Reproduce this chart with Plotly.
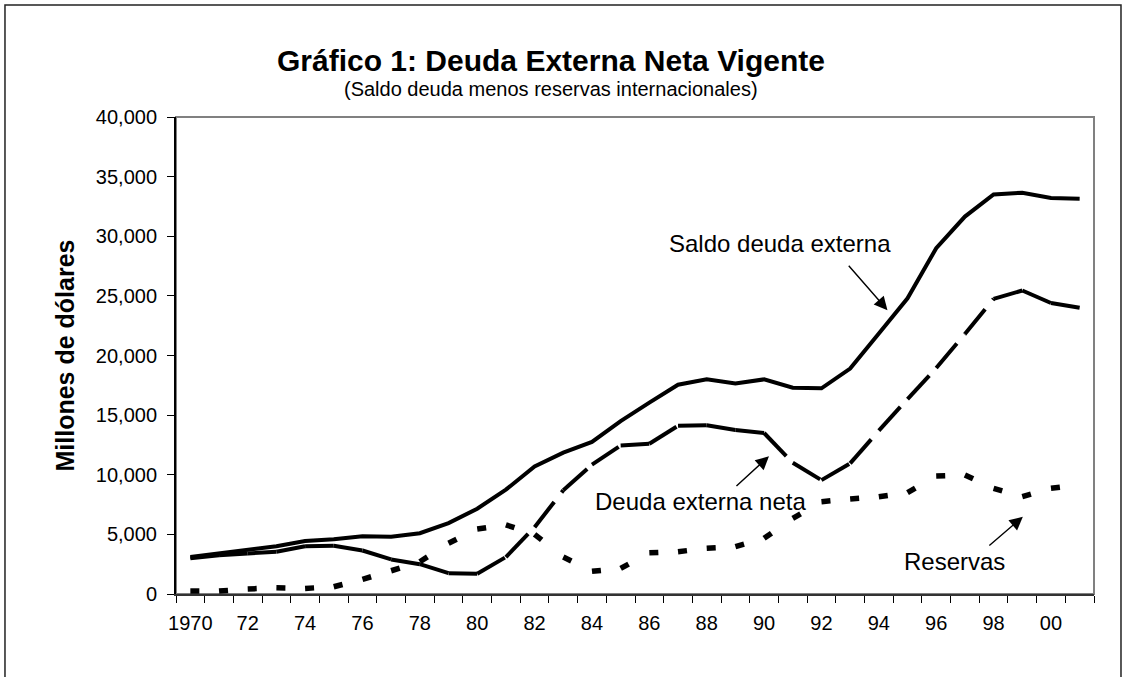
import plotly.graph_objects as go

# Deuda externa (millones de dólares), 1970-2001
years = list(range(1970, 2002))
saldo = [3100, 3400, 3700, 4000, 4450, 4600, 4850, 4800, 5100, 5950,
         7150, 8750, 10700, 11850, 12750, 14500, 16050, 17550, 18000, 17650,
         18000, 17300, 17250, 18900, 21850, 24800, 29000, 31650, 33500, 33650,
         33200, 33150]
neta = [3000, 3250, 3400, 3550, 4000, 4050, 3650, 2900, 2500, 1750,
        1700, 3100, 5600, 8700, 10850, 12450, 12600, 14100, 14150, 13750,
        13500, 11000, 9550, 10950, 13700, 16350, 18950, 21800, 24750, 25450,
        24400, 24000]
reservas = [250, 250, 420, 520, 470, 610, 1230, 1950, 2700, 4250,
            5450, 5800, 5000, 3100, 1900, 2150, 3450, 3550, 3830, 3970,
            4670, 6350, 7740, 7970, 8160, 8500, 9900, 9980, 8860, 8160,
            8860, 9140]

tick_years = list(range(1970, 2001, 2))
tick_text = ["1970"] + [str(y)[2:] for y in tick_years[1:]]

FONT = "Liberation Sans, Arial, sans-serif"

fig = go.Figure()

# saldo deuda externa: solid line
fig.add_trace(go.Scatter(x=years, y=saldo, mode="lines",
                         line=dict(color="black", width=4),
                         showlegend=False, hoverinfo="skip"))

# excel restarts the dash pattern at every point, so draw segment by segment
for i in range(len(years) - 1):
    fig.add_trace(go.Scatter(x=years[i:i + 2], y=neta[i:i + 2], mode="lines",
                             line=dict(color="black", width=4, dash="32px,12px"),
                             showlegend=False, hoverinfo="skip"))
    fig.add_trace(go.Scatter(x=years[i:i + 2], y=reservas[i:i + 2], mode="lines",
                             line=dict(color="black", width=5.5, dash="9px,100px"),
                             showlegend=False, hoverinfo="skip"))

# labels + arrows
fig.add_annotation(x=1990.55, y=29400, text="Saldo deuda externa", showarrow=False,
                   font=dict(size=24, color="black", family=FONT))
fig.add_annotation(x=1994.3, y=23800, ax=-40, ay=-46, text="", showarrow=True,
                   arrowhead=2, arrowsize=1.9, arrowwidth=1.4, arrowcolor="black")

fig.add_annotation(x=1987.8, y=7750, text="Deuda externa neta", showarrow=False,
                   font=dict(size=24, color="black", family=FONT))
fig.add_annotation(x=1990.17, y=11550, ax=-34, ay=31, text="", showarrow=True,
                   arrowhead=2, arrowsize=1.9, arrowwidth=1.4, arrowcolor="black")

fig.add_annotation(x=1996.64, y=2700, text="Reservas", showarrow=False,
                   font=dict(size=24, color="black", family=FONT))
fig.add_annotation(x=1999.02, y=6480, ax=-35, ay=30, text="", showarrow=True,
                   arrowhead=2, arrowsize=1.9, arrowwidth=1.4, arrowcolor="black")

# titles
fig.add_annotation(x=0.408, y=1.158, xref="paper", yref="paper",
                   text="<b>Gráfico 1: Deuda Externa Neta Vigente</b>", showarrow=False,
                   font=dict(size=30, color="black", family=FONT))
fig.add_annotation(x=0.408, y=1.086, xref="paper", yref="paper",
                   text="(Saldo deuda menos reservas internacionales)", showarrow=False,
                   font=dict(size=20, color="black", family=FONT))

# plot area frame (grey) and outer chart frame
fig.add_shape(type="rect", xref="paper", yref="paper", x0=0, y0=0, x1=1, y1=1,
              line=dict(color="#808080", width=2), layer="below")
fig.add_shape(type="rect", xref="paper", yref="paper", x0=-0.1863, y0=-0.21,
              x1=1.0294, y1=1.2348, line=dict(color="#222222", width=1.5))

fig.update_xaxes(range=[1969.5, 2001.5], tickmode="array", tickvals=tick_years,
                 ticktext=tick_text, ticks="", showgrid=False, zeroline=False,
                 showline=True, linecolor="#333333", linewidth=2,
                 tickfont=dict(size=20, color="black", family=FONT),
                 ticklabelstandoff=10,
                 minor=dict(tick0=1969.5, dtick=1, ticks="outside", ticklen=7,
                            tickwidth=1, tickcolor="black", showgrid=False))
fig.update_yaxes(range=[0, 40000], dtick=5000, tickformat=",", ticks="outside",
                 ticklen=7, tickwidth=1, tickcolor="black", showgrid=False,
                 zeroline=False, showline=True, linecolor="black", linewidth=2,
                 tickfont=dict(size=20, color="black", family=FONT),
                 ticklabelstandoff=6,
                 title=dict(text="<b>Millones de dólares</b>", standoff=14,
                            font=dict(size=25, color="black", family=FONT)))

fig.update_layout(width=1128, height=677, margin=dict(l=176, r=34, t=117, b=83),
                  plot_bgcolor="white", paper_bgcolor="white",
                  font=dict(family=FONT, color="black"))

# drop the page's default body margin so the chart sits at the window origin
fig.write_html("out.html", config={"displayModeBar": False},
               post_script="document.body.style.margin='0';")
